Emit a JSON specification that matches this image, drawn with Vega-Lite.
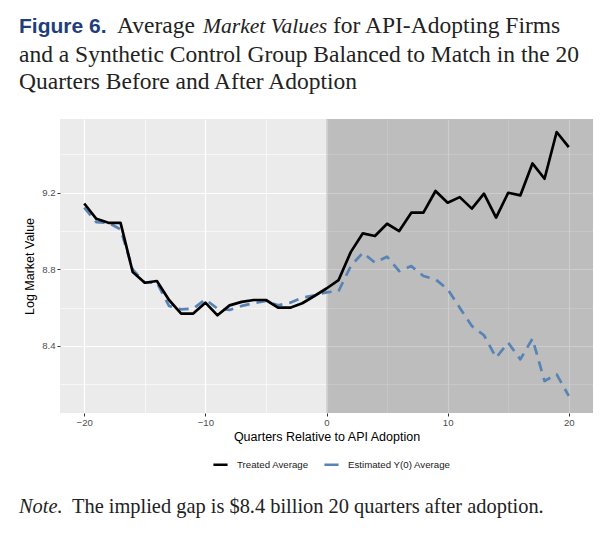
{
  "$schema": "https://vega.github.io/schema/vega-lite/v6.json",
  "padding": {"left": 19, "top": 14, "right": 5, "bottom": 5},
  "title": {
    "text": "The implied gap is $8.4 billion 20 quarters after adoption.",
    "orient": "bottom", "anchor": "start", "frame": "group", "dx": 12, "offset": -20.4,
    "font": "Liberation Serif", "fontSize": 20.4, "fontWeight": "normal", "color": "#222222"
  },
  "resolve": {"scale": {"color": "independent"}, "legend": {"color": "independent"}},
  "vconcat": [
    {
      "title": {
        "text": "Note.",
        "orient": "bottom", "anchor": "start", "frame": "group", "dx": -41, "offset": 27,
        "font": "Liberation Serif", "fontSize": 20.4, "fontStyle": "italic", "fontWeight": "normal", "color": "#222222"
      },
      "resolve": {"scale": {"color": "independent"}, "legend": {"color": "independent"}},
      "vconcat": [
        {
          "title": {
            "text": "for API-Adopting Firms",
            "anchor": "start", "frame": "group", "dx": 273, "offset": -23.5,
            "font": "Liberation Serif", "fontSize": 23.5, "fontWeight": "normal", "color": "#222222"
          },
          "resolve": {"scale": {"color": "independent"}, "legend": {"color": "independent"}},
          "vconcat": [
            {
              "title": {
                "text": "Market Values",
                "anchor": "start", "frame": "group", "dx": 143, "offset": -23.1,
                "font": "Liberation Serif", "fontSize": 21.6, "fontStyle": "italic", "fontWeight": "normal", "color": "#222222"
              },
              "resolve": {"scale": {"color": "independent"}, "legend": {"color": "independent"}},
              "vconcat": [
                {
                  "title": {
                    "text": "Average",
                    "anchor": "start", "frame": "group", "dx": 57, "offset": -21.5,
                    "font": "Liberation Serif", "fontSize": 23.5, "fontWeight": "normal", "color": "#222222"
                  },
                  "resolve": {"scale": {"color": "independent"}, "legend": {"color": "independent"}},
                  "vconcat": [
                    {
                      "title": {
                        "text": "Figure 6.",
                        "subtitle": ["and a Synthetic Control Group Balanced to Match in the 20", "Quarters Before and After Adoption"],
                        "anchor": "start", "frame": "group", "dx": -41, "offset": 26,
                        "font": "Liberation Sans", "fontSize": 21, "fontWeight": "bold", "color": "#1f3f7a",
                        "subtitleFont": "Liberation Serif", "subtitleFontSize": 23.5, "subtitleColor": "#222222",
                        "subtitlePadding": 6, "subtitleLineHeight": 26.5
                      },
                      "width": 533,
                      "height": 294,
                      "layer": [
                        {
                          "data": {"values": [{"start": 0, "end": 22}]},
                          "mark": {"type": "rect", "color": "#000000", "opacity": 0.195, "clip": true},
                          "encoding": {
                            "x": {
                              "field": "start", "type": "quantitative",
                              "title": "Quarters Relative to API Adoption",
                              "scale": {"domain": [-22, 22], "nice": false, "zero": false},
                              "axis": {
                                "values": [-20, -15, -10, -5, 0, 5, 10, 15, 20],
                                "labelExpr": "datum.value % 10 === 0 ? datum.label : ''",
                                "labelOverlap": false,
                                "grid": true,
                                "gridColor": "#ffffff",
                                "gridWidth": {"condition": {"test": "datum.value % 10 === 0", "value": 1.2}, "value": 0.6},
                                "domain": false,
                                "tickColor": "#333333",
                                "tickSize": 3,
                                "tickOpacity": {"condition": {"test": "datum.value % 10 === 0", "value": 1}, "value": 0},
                                "labelFont": "Liberation Sans",
                                "labelFontSize": 9.6,
                                "labelColor": "#4d4d4d",
                                "labelPadding": 1,
                                "titleFont": "Liberation Sans",
                                "titleFontSize": 12.5,
                                "titleFontWeight": "normal",
                                "titleColor": "#000000",
                                "titlePadding": 4
                              }
                            },
                            "x2": {"field": "end"}
                          }
                        },
                        {
                          "data": {"name": "series"},
                          "transform": [{"filter": "datum.group === 'Estimated Y(0) Average'"}],
                          "mark": {"type": "line", "strokeWidth": 2.7, "strokeDash": [10, 7], "strokeJoin": "round", "clip": true},
                          "encoding": {
                            "x": {
                              "field": "quarter", "type": "quantitative",
                              "title": "Quarters Relative to API Adoption",
                              "scale": {"domain": [-22, 22], "nice": false, "zero": false}
                            },
                            "y": {
                              "field": "value", "type": "quantitative",
                              "title": "Log Market Value",
                              "scale": {"domain": [8.05, 9.585], "nice": false, "zero": false},
                              "axis": {
                                "values": [8.2, 8.4, 8.6, 8.8, 9.0, 9.2, 9.4],
                                "format": ".1f",
                                "labelExpr": "round(datum.value * 10) % 4 === 0 ? datum.label : ''",
                                "labelOverlap": false,
                                "grid": true,
                                "gridColor": "#ffffff",
                                "gridWidth": {"condition": {"test": "round(datum.value * 10) % 4 === 0", "value": 1.2}, "value": 0.6},
                                "domain": false,
                                "tickColor": "#333333",
                                "tickSize": 3,
                                "tickOpacity": {"condition": {"test": "round(datum.value * 10) % 4 === 0", "value": 1}, "value": 0},
                                "labelFont": "Liberation Sans",
                                "labelFontSize": 9.6,
                                "labelColor": "#4d4d4d",
                                "labelPadding": 2,
                                "titleFont": "Liberation Sans",
                                "titleFontSize": 12.5,
                                "titleFontWeight": "normal",
                                "titleColor": "#000000",
                                "titlePadding": 5
                              }
                            },
                            "color": {
                              "field": "group", "type": "nominal",
                              "scale": {"domain": ["Treated Average", "Estimated Y(0) Average"], "range": ["#000000", "#5884b5"]},
                              "legend": {
                                "title": null,
                                "orient": "none",
                                "legendX": 152,
                                "legendY": 337,
                                "direction": "horizontal",
                                "symbolType": "stroke",
                                "symbolStrokeWidth": 2.5,
                                "symbolSize": 200,
                                "symbolDash": [1, 0],
                                "labelFont": "Liberation Sans",
                                "labelFontSize": 9.7,
                                "labelColor": "#1a1a1a",
                                "labelOffset": 8,
                                "columnPadding": 10
                              }
                            }
                          }
                        },
                        {
                          "data": {"name": "series"},
                          "transform": [{"filter": "datum.group === 'Treated Average'"}],
                          "mark": {"type": "line", "strokeWidth": 2.7, "strokeJoin": "round", "clip": true},
                          "encoding": {
                            "x": {
                              "field": "quarter", "type": "quantitative",
                              "title": "Quarters Relative to API Adoption",
                              "scale": {"domain": [-22, 22], "nice": false, "zero": false}
                            },
                            "y": {
                              "field": "value", "type": "quantitative",
                              "title": "Log Market Value",
                              "scale": {"domain": [8.05, 9.585], "nice": false, "zero": false}
                            },
                            "color": {
                              "field": "group", "type": "nominal",
                              "scale": {"domain": ["Treated Average", "Estimated Y(0) Average"], "range": ["#000000", "#5884b5"]}
                            }
                          }
                        }
                      ]
                    }
                  ]
                }
              ]
            }
          ]
        }
      ]
    }
  ],
  "datasets": {
    "series": [
      {"quarter": -20, "group": "Treated Average", "value": 9.144},
      {"quarter": -19, "group": "Treated Average", "value": 9.064},
      {"quarter": -18, "group": "Treated Average", "value": 9.043},
      {"quarter": -17, "group": "Treated Average", "value": 9.043},
      {"quarter": -16, "group": "Treated Average", "value": 8.786},
      {"quarter": -15, "group": "Treated Average", "value": 8.730},
      {"quarter": -14, "group": "Treated Average", "value": 8.739},
      {"quarter": -13, "group": "Treated Average", "value": 8.640},
      {"quarter": -12, "group": "Treated Average", "value": 8.569},
      {"quarter": -11, "group": "Treated Average", "value": 8.569},
      {"quarter": -10, "group": "Treated Average", "value": 8.626},
      {"quarter": -9, "group": "Treated Average", "value": 8.560},
      {"quarter": -8, "group": "Treated Average", "value": 8.612},
      {"quarter": -7, "group": "Treated Average", "value": 8.630},
      {"quarter": -6, "group": "Treated Average", "value": 8.640},
      {"quarter": -5, "group": "Treated Average", "value": 8.640},
      {"quarter": -4, "group": "Treated Average", "value": 8.600},
      {"quarter": -3, "group": "Treated Average", "value": 8.600},
      {"quarter": -2, "group": "Treated Average", "value": 8.623},
      {"quarter": -1, "group": "Treated Average", "value": 8.661},
      {"quarter": 0, "group": "Treated Average", "value": 8.700},
      {"quarter": 1, "group": "Treated Average", "value": 8.744},
      {"quarter": 2, "group": "Treated Average", "value": 8.890},
      {"quarter": 3, "group": "Treated Average", "value": 8.988},
      {"quarter": 4, "group": "Treated Average", "value": 8.974},
      {"quarter": 5, "group": "Treated Average", "value": 9.038},
      {"quarter": 6, "group": "Treated Average", "value": 9.000},
      {"quarter": 7, "group": "Treated Average", "value": 9.096},
      {"quarter": 8, "group": "Treated Average", "value": 9.096},
      {"quarter": 9, "group": "Treated Average", "value": 9.209},
      {"quarter": 10, "group": "Treated Average", "value": 9.148},
      {"quarter": 11, "group": "Treated Average", "value": 9.177},
      {"quarter": 12, "group": "Treated Average", "value": 9.117},
      {"quarter": 13, "group": "Treated Average", "value": 9.195},
      {"quarter": 14, "group": "Treated Average", "value": 9.070},
      {"quarter": 15, "group": "Treated Average", "value": 9.200},
      {"quarter": 16, "group": "Treated Average", "value": 9.186},
      {"quarter": 17, "group": "Treated Average", "value": 9.353},
      {"quarter": 18, "group": "Treated Average", "value": 9.273},
      {"quarter": 19, "group": "Treated Average", "value": 9.517},
      {"quarter": 20, "group": "Treated Average", "value": 9.438},
      {"quarter": -20, "group": "Estimated Y(0) Average", "value": 9.122},
      {"quarter": -19, "group": "Estimated Y(0) Average", "value": 9.047},
      {"quarter": -18, "group": "Estimated Y(0) Average", "value": 9.043},
      {"quarter": -17, "group": "Estimated Y(0) Average", "value": 9.009},
      {"quarter": -16, "group": "Estimated Y(0) Average", "value": 8.800},
      {"quarter": -15, "group": "Estimated Y(0) Average", "value": 8.730},
      {"quarter": -14, "group": "Estimated Y(0) Average", "value": 8.730},
      {"quarter": -13, "group": "Estimated Y(0) Average", "value": 8.609},
      {"quarter": -12, "group": "Estimated Y(0) Average", "value": 8.591},
      {"quarter": -11, "group": "Estimated Y(0) Average", "value": 8.595},
      {"quarter": -10, "group": "Estimated Y(0) Average", "value": 8.643},
      {"quarter": -9, "group": "Estimated Y(0) Average", "value": 8.595},
      {"quarter": -8, "group": "Estimated Y(0) Average", "value": 8.588},
      {"quarter": -7, "group": "Estimated Y(0) Average", "value": 8.609},
      {"quarter": -6, "group": "Estimated Y(0) Average", "value": 8.623},
      {"quarter": -5, "group": "Estimated Y(0) Average", "value": 8.635},
      {"quarter": -4, "group": "Estimated Y(0) Average", "value": 8.612},
      {"quarter": -3, "group": "Estimated Y(0) Average", "value": 8.626},
      {"quarter": -2, "group": "Estimated Y(0) Average", "value": 8.652},
      {"quarter": -1, "group": "Estimated Y(0) Average", "value": 8.664},
      {"quarter": 0, "group": "Estimated Y(0) Average", "value": 8.680},
      {"quarter": 1, "group": "Estimated Y(0) Average", "value": 8.687},
      {"quarter": 2, "group": "Estimated Y(0) Average", "value": 8.817},
      {"quarter": 3, "group": "Estimated Y(0) Average", "value": 8.887},
      {"quarter": 4, "group": "Estimated Y(0) Average", "value": 8.835},
      {"quarter": 5, "group": "Estimated Y(0) Average", "value": 8.866},
      {"quarter": 6, "group": "Estimated Y(0) Average", "value": 8.791},
      {"quarter": 7, "group": "Estimated Y(0) Average", "value": 8.817},
      {"quarter": 8, "group": "Estimated Y(0) Average", "value": 8.765},
      {"quarter": 9, "group": "Estimated Y(0) Average", "value": 8.748},
      {"quarter": 10, "group": "Estimated Y(0) Average", "value": 8.696},
      {"quarter": 11, "group": "Estimated Y(0) Average", "value": 8.600},
      {"quarter": 12, "group": "Estimated Y(0) Average", "value": 8.504},
      {"quarter": 13, "group": "Estimated Y(0) Average", "value": 8.456},
      {"quarter": 14, "group": "Estimated Y(0) Average", "value": 8.339},
      {"quarter": 15, "group": "Estimated Y(0) Average", "value": 8.417},
      {"quarter": 16, "group": "Estimated Y(0) Average", "value": 8.330},
      {"quarter": 17, "group": "Estimated Y(0) Average", "value": 8.438},
      {"quarter": 18, "group": "Estimated Y(0) Average", "value": 8.217},
      {"quarter": 19, "group": "Estimated Y(0) Average", "value": 8.252},
      {"quarter": 20, "group": "Estimated Y(0) Average", "value": 8.139}
    ]
  },
  "config": {
    "view": {"fill": "#ebebeb", "stroke": null},
    "background": "#ffffff"
  }
}
